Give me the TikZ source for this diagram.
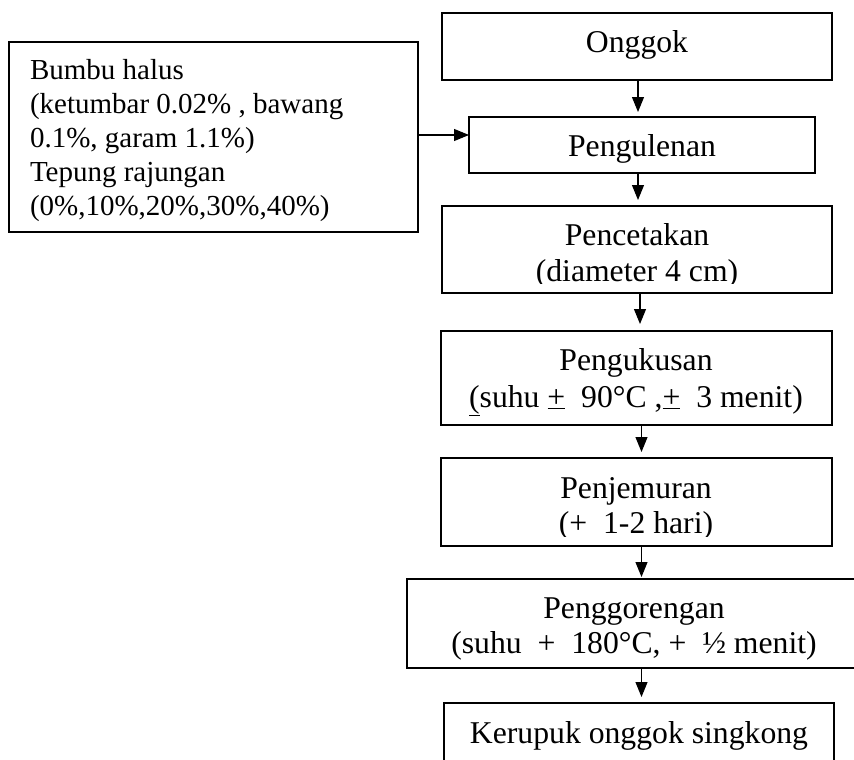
\documentclass[tikz,border=0pt]{standalone}
\usepackage{fontspec}
\setmainfont{Liberation Serif}
\usetikzlibrary{arrows.meta,calc}
\begin{document}
\begin{tikzpicture}[x=1pt,y=-1pt,
  boxstyle/.style={draw, line width=1.1pt, inner sep=0pt, outer sep=0pt, anchor=north west},
  txt/.style={inner sep=0pt, outer sep=0pt, font=\fontsize{29}{34}\selectfont},
  btxt/.style={inner sep=0pt, outer sep=0pt, font=\fontsize{31.7}{36}\selectfont},
  arr/.style={line width=1.1pt, -{Triangle[length=15pt,width=12pt]}}]
\useasboundingbox (0,0) rectangle (854,760);
% boxes
\node[boxstyle, minimum width=409pt, minimum height=190pt] (bumbu) at (9,42) {};
\node[boxstyle, minimum width=390pt, minimum height=67pt] (onggok) at (442,13) {};
\node[boxstyle, minimum width=346pt, minimum height=56pt] (pengulenan) at (469,117) {};
\node[boxstyle, minimum width=390pt, minimum height=87pt] (pencetakan) at (442,206) {};
\node[boxstyle, minimum width=391pt, minimum height=94pt] (pengukusan) at (441,331) {};
\node[boxstyle, minimum width=391pt, minimum height=88pt] (penjemuran) at (441,458) {};
\node[boxstyle, minimum width=449pt, minimum height=89pt] (penggorengan) at (407,579) {};
\node[boxstyle, minimum width=390pt, minimum height=60pt] (kerupuk) at (444,703) {};
% texts
\node[txt, anchor=base west] (b1) at (30,79) {Bumbu halus};
\node[txt, anchor=base west] (b2) at (30,113) {(ketumbar 0.02\% , bawang};
\node[txt, anchor=base west] (b3) at (30,147) {0.1\%, garam 1.1\%)};
\node[txt, anchor=base west] (b4) at (30,181) {Tepung rajungan};
\node[txt, anchor=base west] (b5) at (30,215) {(0\%,10\%,20\%,30\%,40\%)};
\node[btxt, anchor=base] (t1) at (637,53) {Onggok};
\node[btxt, anchor=base] (t2) at (642,156) {Pengulenan};
\node[btxt, anchor=base] (t3a) at (637,245) {Pencetakan};
\begin{scope}
\clip (442,206) rectangle (832,283);
\node[btxt, anchor=base] (t3b) at (637,281) {(diameter 4 cm)};
\end{scope}
\node[btxt, anchor=base] (t4a) at (636,370) {Pengukusan};
\node[btxt, anchor=base] (t4b) at (636,407) {\underline{(}suhu \underline{+}~ 90°C ,\underline{+}~ 3 menit)};
\node[btxt, anchor=base] (t5a) at (636,498) {Penjemuran};
\begin{scope}
\clip (441,458) rectangle (832,536);
\node[btxt, anchor=base] (t5b) at (636,533) {(+~ 1-2 hari)};
\end{scope}
\node[btxt, anchor=base] (t6a) at (634,618) {Penggorengan};
\node[btxt, anchor=base] (t6b) at (634,653) {(suhu~ +~ 180°C, +~ ½ menit)};
\node[btxt, anchor=base] (t7) at (639,743) {Kerupuk onggok singkong};
% arrows
\draw[arr, shorten >=5pt] ([xshift=1pt]onggok.south) -- ([xshift=1pt]onggok.south |- pengulenan.north);
\draw[arr, shorten >=6pt] ([xshift=-4pt]pengulenan.south) -- ([xshift=-4pt]pengulenan.south |- pencetakan.north);
\draw[arr, shorten >=7pt] ([xshift=3pt]pencetakan.south) -- ([xshift=3pt]pencetakan.south |- pengukusan.north);
\draw[arr, shorten >=6pt] ([xshift=5pt]pengukusan.south) -- ([xshift=5pt]pengukusan.south |- penjemuran.north);
\draw[arr, shorten >=2pt] ([xshift=5pt]penjemuran.south) -- ([xshift=5pt]penjemuran.south |- penggorengan.north);
\draw[arr, shorten >=6pt] ([xshift=5pt]penjemuran.south |- penggorengan.south) -- ([xshift=5pt]penjemuran.south |- kerupuk.north);
\draw[arr] ([yshift=2pt]bumbu.east) -- ([yshift=2pt]bumbu.east -| pengulenan.west);
\end{tikzpicture}
\end{document}
